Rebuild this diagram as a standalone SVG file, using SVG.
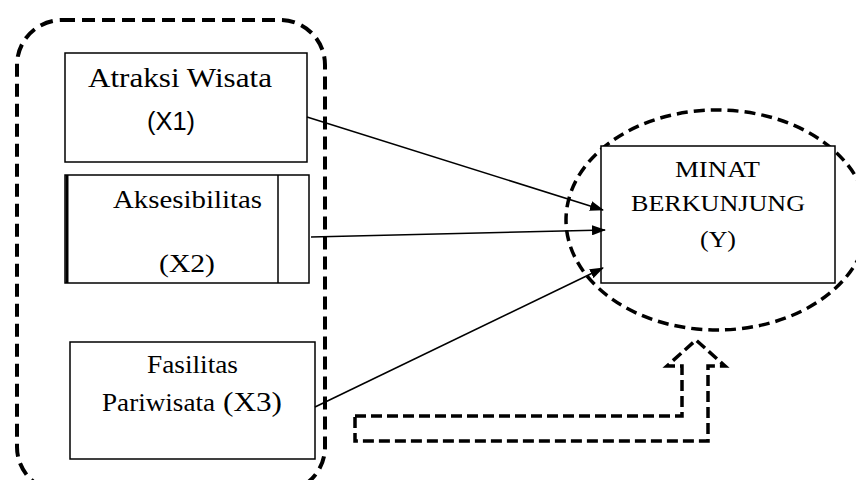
<svg xmlns="http://www.w3.org/2000/svg" width="856" height="480" viewBox="0 0 856 480">
<defs>
<style>
.box{fill:#fff;stroke:#000;stroke-width:1.5}
.dash{fill:none;stroke:#000;stroke-width:4;stroke-dasharray:13 7}
.t{font-family:"Liberation Serif","Times New Roman",serif;fill:#000}
.s{font-family:"Liberation Sans",Arial,sans-serif;fill:#000}
.conn{stroke:#000;stroke-width:1.6;fill:none;marker-end:url(#ah)}
</style>
<marker id="ah" markerWidth="14" markerHeight="10" refX="13" refY="5" orient="auto" markerUnits="userSpaceOnUse">
<path d="M0,0 L14,5 L0,10 Z" fill="#000"/>
</marker>
</defs>
<rect width="856" height="480" fill="#fff"/>
<g id="group-x">
<rect class="dash" x="17" y="20" width="308" height="472" rx="45" ry="45"/>
</g>
<g id="y-ellipse">
<ellipse cx="717" cy="220" rx="151" ry="110" fill="none" stroke="#000" stroke-width="3.5" stroke-dasharray="11 6"/>
</g>
<g id="x1">
<rect class="box" x="65" y="53" width="242" height="109"/>
<text class="t" x="88" y="87" font-size="27" textLength="184" lengthAdjust="spacingAndGlyphs">Atraksi Wisata</text>
<text class="s" x="147" y="130" font-size="26" textLength="48" lengthAdjust="spacingAndGlyphs">(X1)</text>
</g>
<g id="x2">
<rect class="box" x="65" y="175" width="244" height="108"/>
<line x1="67" y1="175" x2="67" y2="283" stroke="#000" stroke-width="3"/>
<line x1="278" y1="175" x2="278" y2="283" stroke="#000" stroke-width="1.5"/>
<text class="t" x="113" y="208" font-size="25" textLength="149" lengthAdjust="spacingAndGlyphs">Aksesibilitas</text>
<text class="t" x="159" y="272" font-size="26" textLength="56" lengthAdjust="spacingAndGlyphs">(X2)</text>
</g>
<g id="x3">
<rect class="box" x="70" y="342" width="245" height="117"/>
<text class="t" x="147" y="373" font-size="25" textLength="91" lengthAdjust="spacingAndGlyphs">Fasilitas</text>
<text class="t" x="102" y="411" font-size="25" textLength="113" lengthAdjust="spacingAndGlyphs">Pariwisata</text>
<text class="t" x="223" y="411" font-size="27" textLength="59" lengthAdjust="spacingAndGlyphs">(X3)</text>
</g>
<g id="y">
<rect class="box" x="601" y="146" width="234" height="137"/>
<text class="t" x="675" y="177" font-size="24" textLength="85" lengthAdjust="spacingAndGlyphs">MINAT</text>
<text class="t" x="631" y="211" font-size="24" textLength="174" lengthAdjust="spacingAndGlyphs">BERKUNJUNG</text>
<text class="t" x="700" y="247" font-size="24" textLength="36" lengthAdjust="spacingAndGlyphs">(Y)</text>
</g>
<g id="connectors">
<line class="conn" x1="307" y1="117" x2="603" y2="210"/>
<line class="conn" x1="311" y1="237" x2="605" y2="230"/>
<line class="conn" x1="315" y1="407" x2="603" y2="268"/>
<path d="M355,416 L682,416 L682,366 L667,366 L696,340 L725,366 L708,366 L708,441 L355,441 Z" fill="none" stroke="#000" stroke-width="3.5" stroke-dasharray="11 5"/>
</g>
</svg>
